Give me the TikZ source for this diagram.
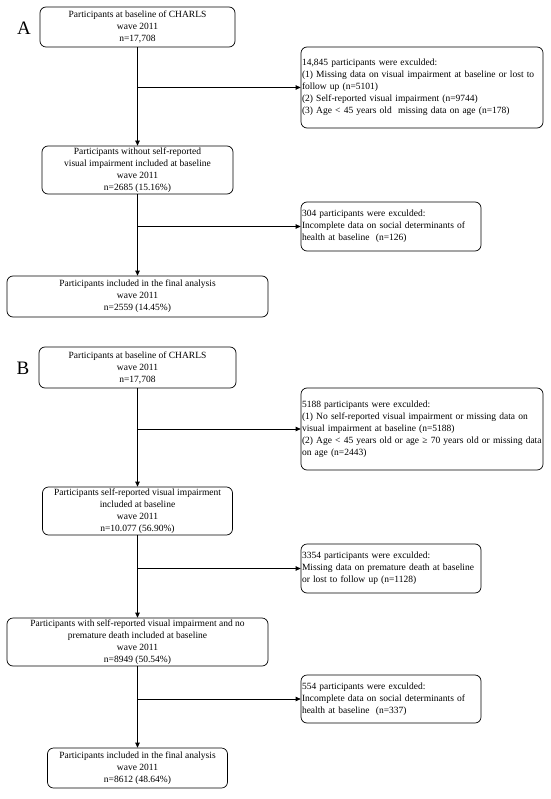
\documentclass[tikz,border=0pt]{standalone}
\usepackage{fontspec}
\setmainfont{Liberation Serif}
\usetikzlibrary{arrows.meta}

\tikzset{
  flow/.style={draw, rounded corners=6pt, line width=0.7pt, inner sep=1pt,
    font=\fontsize{9.5}{12}\selectfont},
  stage/.style={flow, align=center},
  excl/.style={flow, align=left, text width=#1, inner xsep=1pt},
  arr/.style={line width=0.7pt, -{Triangle[length=5pt,width=4.5pt]}},
  panel/.style={font=\fontsize{19}{20}\selectfont},
}

\begin{document}
\begin{tikzpicture}[x=1pt, y=-1pt]
  \useasboundingbox (0,0) rectangle (550,799);

  % panel A
  \node[panel] (labA) at (24,28) {A};
  \node[stage, minimum width=195pt, minimum height=40pt] (A1) at (137.5,27)
    {Participants at baseline of CHARLS\\wave 2011\\n=17,708};
  \node[excl=240pt, minimum height=81pt] (E1) at (422,87.5)
    {14,845 participants were exculded:\\
     (1) Missing data on visual impairment at baseline or lost to\\
     follow up (n=5101)\\
     (2) Self-reported visual impairment (n=9744)\\
     (3) Age < 45 years old\ \ missing data on age (n=178)};
  \node[stage, minimum width=191pt, minimum height=48pt] (A2) at (137.5,170)
    {Participants without self-reported\\visual impairment included at baseline\\wave 2011\\n=2685 (15.16\%)};
  \node[excl=178pt, minimum height=49pt] (E2) at (391,226.5)
    {304 participants were exculded:\\
     Incomplete data on social determinants of\\
     health at baseline\ \ (n=126)};
  \node[stage, minimum width=261pt, minimum height=41pt] (A3) at (137.5,296.5)
    {Participants included in the final analysis\\wave 2011\\n=2559 (14.45\%)};

  \coordinate (ja1) at (A1 |- E1.west);
  \coordinate (ja2) at (A2 |- E2.west);

  \draw[arr] (A1) -- (A2);
  \draw[arr] (A2) -- (A3);
  \draw[arr] (ja1) -- (E1.west);
  \draw[arr] (ja2) -- (E2.west);

  % panel B
  \node[panel] (labB) at (23,368) {B};
  \node[stage, minimum width=197pt, minimum height=41pt] (B1) at (137.5,367.5)
    {Participants at baseline of CHARLS\\wave 2011\\n=17,708};
  \node[excl=240pt, minimum height=82pt] (F1) at (422,429)
    {5188 participants were exculded:\\
     (1) No self-reported visual impairment or missing data on\\
     visual impairment at baseline (n=5188)\\
     (2) Age < 45 years old or age ≥ 70 years old or missing data\\
     on age (n=2443)};
  \node[stage, minimum width=190pt, minimum height=48pt] (B2) at (137.5,511)
    {Participants self-reported visual impairment\\included at baseline\\wave 2011\\n=10.077 (56.90\%)};
  \node[excl=178pt, minimum height=49pt] (F2) at (391,568.5)
    {3354 participants were exculded:\\
     Missing data on premature death at baseline\\
     or lost to follow up (n=1128)};
  \node[stage, minimum width=261pt, minimum height=48pt] (B3) at (137.5,642)
    {Participants with self-reported visual impairment and no\\premature death included at baseline\\wave 2011\\n=8949 (50.54\%)};
  \node[excl=178pt, minimum height=48pt] (F3) at (391,699)
    {554 participants were exculded:\\
     Incomplete data on social determinants of\\
     health at baseline\ \ (n=337)};
  \node[stage, minimum width=180pt, minimum height=40pt] (B4) at (137.5,768)
    {Participants included in the final analysis\\wave 2011\\n=8612 (48.64\%)};

  \coordinate (jb1) at (B1 |- F1.west);
  \coordinate (jb2) at (B2 |- F2.west);
  \coordinate (jb3) at (B3 |- F3.west);

  \draw[arr] (B1) -- (B2);
  \draw[arr] (B2) -- (B3);
  \draw[arr] (B3) -- (B4);
  \draw[arr] (jb1) -- (F1.west);
  \draw[arr] (jb2) -- (F2.west);
  \draw[arr] (jb3) -- (F3.west);
\end{tikzpicture}
\end{document}
